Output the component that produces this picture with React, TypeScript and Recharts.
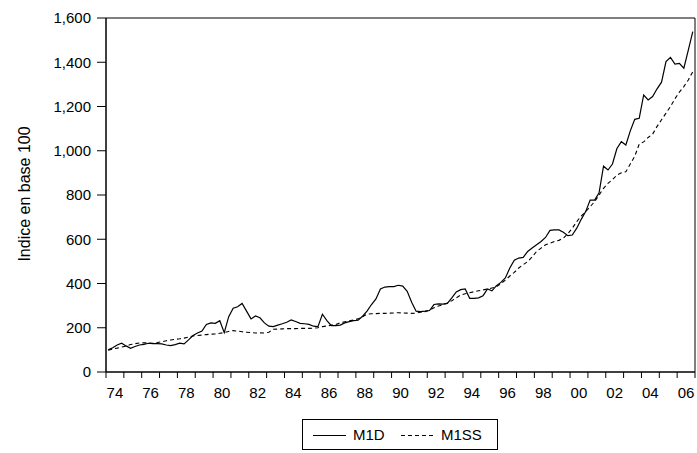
import React from 'react';
import { LineChart, Line, XAxis, YAxis, ReferenceArea } from 'recharts';

const startYear = 1974;
const endYear = 2007;

// quarterly values, 1974Q1 .. 2006Q4
const m1d = [
  100, 110, 122, 130,
  118, 107, 115, 122,
  125, 130, 128, 128,
  127, 122, 119, 124,
  130, 127, 145, 165,
  176, 185, 215, 222,
  220, 232, 178, 250,
  288, 295, 310, 275,
  240, 253, 245, 222,
  207, 205, 212, 218,
  225, 235, 228, 220,
  218, 215, 207, 205,
  261, 232, 210, 210,
  212, 222, 228, 232,
  234, 252, 275, 305,
  330, 375, 384, 386,
  386, 392, 388, 365,
  315, 275, 273, 275,
  278, 305, 308, 307,
  310, 335, 362, 372,
  375, 333, 333, 335,
  345, 375, 367, 390,
  405, 425, 470, 505,
  515, 518, 545, 560,
  575, 590, 608, 640,
  642, 642, 632, 616,
  619, 650, 690, 725,
  777, 777, 810, 930,
  913, 940, 1010, 1041,
  1026, 1090, 1142, 1147,
  1252, 1230, 1245, 1280,
  1310, 1403, 1422, 1392,
  1395, 1373, 1455, 1538,
];

const m1ss = [
  98, 104, 108, 113,
  117, 124, 128, 131,
  132, 131, 130, 133,
  137, 141, 145, 148,
  150, 153, 158, 163,
  165, 167, 169, 171,
  172, 175, 178, 183,
  187, 185, 182, 180,
  178, 176, 177, 176,
  180, 193, 194, 195,
  196, 196, 196, 197,
  197, 197, 198, 200,
  205, 208, 212, 215,
  222, 227, 231, 235,
  240, 250, 262, 263,
  264, 265, 265, 266,
  267, 268, 267, 266,
  265, 266, 270, 273,
  280, 290, 298, 303,
  312, 322, 335, 348,
  354, 358, 363, 367,
  371, 375, 380, 385,
  400, 415, 434, 450,
  470, 485, 499, 520,
  545, 560, 575, 582,
  590, 595, 605, 625,
  650, 680, 705, 725,
  747, 770, 800, 830,
  853, 870, 890, 900,
  905, 940, 975, 1030,
  1040, 1060, 1075, 1110,
  1140, 1170, 1200, 1235,
  1265, 1290, 1320, 1357,
];

const yTicks = [0, 200, 400, 600, 800, 1000, 1200, 1400, 1600];
const yearTicks: number[] = [];
for (let y = startYear; y <= endYear; y++) yearTicks.push(y);

const data = m1d.map((v, i) => ({
  t: startYear + (i + 0.5) / 4,
  m1d: v,
  m1ss: m1ss[i],
}));

const FONT = '"Liberation Sans", Arial, sans-serif';
const TEXT = '#000';

function YearTick(props: any) {
  const { x, y, payload } = props;
  const v = payload.value as number;
  if (v % 2 !== 0 || v >= endYear) return <g />;
  const label = String(v % 100).padStart(2, '0');
  return (
    <text x={x + 8.9} y={y} dy="0.71em" textAnchor="middle" fontSize={15} fontFamily={FONT} fill={TEXT}>
      {label}
    </text>
  );
}

function YLabel() {
  return (
    <text
      x={0}
      y={0}
      transform="translate(24,194) rotate(-90)"
      textAnchor="middle"
      dominantBaseline="central"
      fontSize={16}
      fontFamily={FONT}
      fill={TEXT}
    >
      Indice en base 100
    </text>
  );
}

export default function App() {
  return (
    <div style={{ position: 'absolute', left: 0, top: 0, width: 697, height: 453, background: '#fff' }}>
      <LineChart width={697} height={453} data={data} margin={{ top: 18, right: 2, bottom: 51, left: 0 }}>
        <XAxis
          dataKey="t"
          type="number"
          domain={[startYear, endYear]}
          ticks={yearTicks}
          interval={0}
          tickSize={6}
          tickMargin={9}
          height={30}
          tick={(p: any) => <YearTick {...p} />}
          axisLine={{ stroke: '#000' }}
          tickLine={{ stroke: '#000' }}
        />
        <YAxis
          type="number"
          domain={[0, 1600]}
          ticks={yTicks}
          interval={0}
          width={106}
          tickSize={9}
          tickMargin={6}
          tickFormatter={(v: number) => v.toLocaleString('en-US')}
          tick={{ fontSize: 15, fontFamily: FONT, fill: TEXT }}
          axisLine={{ stroke: '#000' }}
          tickLine={{ stroke: '#000' }}
          label={{ content: () => <YLabel /> }}
        />
        <ReferenceArea x1={startYear} x2={endYear} y1={0} y2={1600} fill="none" stroke="#000" strokeWidth={1} ifOverflow="visible" />
        <Line type="linear" dataKey="m1ss" stroke="#000" strokeWidth={1.1} strokeDasharray="4 3" dot={false} isAnimationActive={false} />
        <Line type="linear" dataKey="m1d" stroke="#000" strokeWidth={1.2} dot={false} isAnimationActive={false} />
      </LineChart>
      <div
        style={{
          position: 'absolute',
          left: 302,
          top: 419,
          width: 194,
          height: 29,
          border: '1px solid #000',
          fontFamily: FONT,
          fontSize: 15,
          color: TEXT,
        }}
      >
        <svg width={194} height={29} style={{ position: 'absolute', left: 0, top: 0 }}>
          <line x1={10} x2={43} y1={15.5} y2={15.5} stroke="#000" strokeWidth={1.2} />
          <line x1={98} x2={131} y1={15.5} y2={15.5} stroke="#000" strokeWidth={1.1} strokeDasharray="4 3" />
        </svg>
        <span style={{ position: 'absolute', left: 50, top: 6, lineHeight: '17px' }}>M1D</span>
        <span style={{ position: 'absolute', left: 138, top: 6, lineHeight: '17px' }}>M1SS</span>
      </div>
    </div>
  );
}
